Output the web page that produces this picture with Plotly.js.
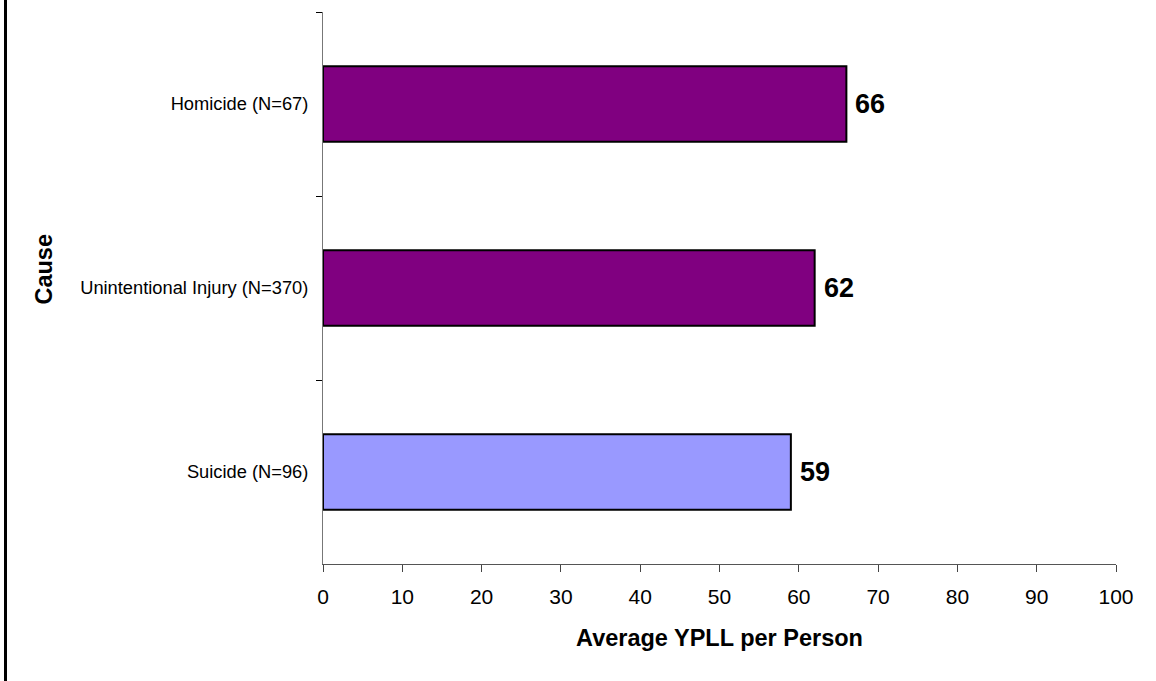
<!DOCTYPE html>
<html>
<head>
<meta charset="utf-8">
<script src="https://cdn.plot.ly/plotly-3.0.1.min.js"></script>
<style>
  html, body { margin: 0; padding: 0; background: #fff; }
  #frame { position: absolute; left: 0; top: 0; width: 1156px; height: 681px; }
  #frame::before { content: ""; position: absolute; left: 4px; top: 0; width: 3px; height: 681px; background: #000; z-index: 5; }
  #chart { width: 1156px; height: 681px; }
</style>
</head>
<body>
<div id="frame"><div id="chart"></div></div>
<script>
// Average years of potential life lost, by cause of death
const causes = ["Homicide (N=67)", "Unintentional Injury (N=370)", "Suicide (N=96)"];
const avgYPLL = [66, 62, 59];
const barColors = ["#800080", "#800080", "#9999FF"];
const xTicks = [0, 10, 20, 30, 40, 50, 60, 70, 80, 90, 100];

const sans = "'Liberation Sans', Arial, sans-serif";

const trace = {
  type: "bar",
  orientation: "h",
  x: avgYPLL,
  y: causes,
  width: 0.41,
  marker: { color: barColors, line: { color: "#000", width: 2 } },
  hoverinfo: "x+y"
};

const valueLabels = avgYPLL.map((v, i) => ({
  x: v, y: causes[i], xref: "x", yref: "y",
  text: String(v), showarrow: false,
  xanchor: "left", yanchor: "middle", xshift: 7,
  font: { family: sans, size: 27, color: "#000", weight: "bold" }
}));

const layout = {
  width: 1156, height: 681,
  margin: { l: 323, r: 40, t: 12, b: 117 },
  paper_bgcolor: "rgba(0,0,0,0)",
  plot_bgcolor: "#fff",
  showlegend: false,
  xaxis: {
    range: [0, 100],
    tickvals: xTicks,
    ticktext: xTicks.map(String),
    ticks: "outside", ticklen: 7, tickwidth: 1, tickcolor: "#444",
    showline: true, linecolor: "#555", linewidth: 1,
    showgrid: false, zeroline: false,
    tickfont: { family: sans, size: 21, color: "#000" },
    ticklabelstandoff: 7,
    title: {
      text: "<b>Average YPLL per Person</b>",
      font: { family: sans, size: 23.5, color: "#000" },
      standoff: 22
    },
    fixedrange: true
  },
  yaxis: {
    type: "category",
    categoryorder: "array",
    categoryarray: causes,
    range: [2.5, -0.5],
    tickson: "boundaries",
    ticks: "outside", ticklen: 6, tickwidth: 1, tickcolor: "#000",
    showline: true, linecolor: "#777", linewidth: 1,
    showgrid: false, zeroline: false,
    tickfont: { family: sans, size: 18.3, color: "#000" },
    ticklabelstandoff: 10,
    fixedrange: true
  },
  annotations: valueLabels.concat([{
    xref: "paper", yref: "paper",
    x: -0.352, y: 0.535,
    text: "<b>Cause</b>", textangle: -90, showarrow: false,
    xanchor: "center", yanchor: "middle",
    font: { family: sans, size: 23.5, color: "#000" }
  }])
};

Plotly.newPlot("chart", [trace], layout, { displayModeBar: false, staticPlot: true });
</script>
</body>
</html>
